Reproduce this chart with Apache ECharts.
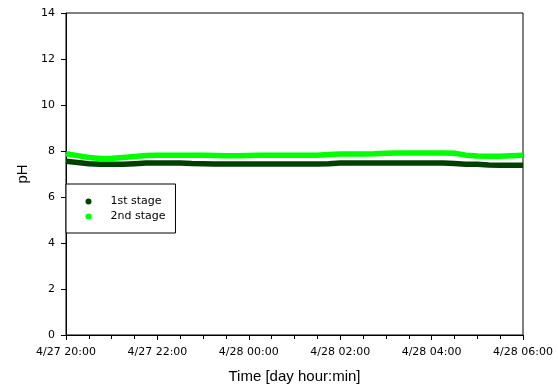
<!DOCTYPE html>
<html>
<head>
<meta charset="utf-8">
<script src="https://cdn.jsdelivr.net/npm/echarts@6/dist/echarts.min.js"></script>
<style>
  html, body { margin: 0; padding: 0; background: #fff; }
</style>
</head>
<body>
<div id="myChart" style="width: 558px; height: 390px;"></div>
<script>
// hours after 4/27 20:00
var hours = [0, 0.25, 0.5, 0.75, 1, 1.25, 1.5, 1.75, 2, 2.25, 2.5, 2.75, 3, 3.25, 3.5, 3.75,
  4, 4.25, 4.5, 4.75, 5, 5.25, 5.5, 5.75, 6, 6.25, 6.5, 6.75, 7, 7.25, 7.5, 7.75,
  8, 8.25, 8.5, 8.75, 9, 9.25, 9.5, 9.75, 10];
var stage1 = [7.55, 7.50, 7.45, 7.42, 7.42, 7.42, 7.45, 7.48, 7.48, 7.48, 7.48, 7.46, 7.45, 7.44, 7.44, 7.44,
  7.44, 7.44, 7.44, 7.44, 7.44, 7.44, 7.44, 7.45, 7.48, 7.48, 7.48, 7.48, 7.48, 7.48, 7.48, 7.48,
  7.48, 7.48, 7.46, 7.42, 7.42, 7.39, 7.38, 7.38, 7.38];
var stage2 = [7.88, 7.80, 7.72, 7.67, 7.68, 7.72, 7.76, 7.80, 7.81, 7.82, 7.82, 7.81, 7.81, 7.80, 7.79, 7.79,
  7.80, 7.81, 7.81, 7.81, 7.81, 7.81, 7.82, 7.85, 7.87, 7.87, 7.87, 7.88, 7.90, 7.91, 7.91, 7.91,
  7.91, 7.91, 7.90, 7.82, 7.78, 7.77, 7.77, 7.79, 7.81];
var tickLabels = ["4/27 20:00", "4/27 22:00", "4/28 00:00", "4/28 02:00", "4/28 04:00", "4/28 06:00"];

function pairs(ys) {
  return hours.map(function (h, i) { return [h, ys[i]]; });
}

var myChart = echarts.init(document.getElementById("myChart"));
var labelFont = { color: "#000", fontFamily: "DejaVu Sans", fontSize: 11 };

myChart.setOption({
  animation: false,
  grid: {
    left: 66, right: 35, top: 13, bottom: 55,
    show: true, borderColor: "#000", borderWidth: 1
  },
  legend: {
    orient: "vertical",
    left: 66, top: 184,
    padding: [11, 10, 10, 19.5],
    itemWidth: 34, itemHeight: 6, itemGap: 2,
    icon: "circle",
    backgroundColor: "#fff",
    borderColor: "#000", borderWidth: 1,
    textStyle: { color: "#000", fontFamily: "DejaVu Sans", fontSize: 11, lineHeight: 13 },
    data: ["1st stage", "2nd stage"]
  },
  xAxis: {
    type: "value",
    min: 0, max: 10, interval: 2,
    name: "Time [day hour:min]",
    nameLocation: "middle",
    nameGap: 34,
    nameTextStyle: { color: "#000", fontFamily: "Liberation Sans", fontSize: 15 },
    axisLine: { lineStyle: { color: "#000", width: 1 } },
    axisTick: { length: 5, lineStyle: { color: "#000" } },
    minorTick: { show: true, splitNumber: 4, length: 4, lineStyle: { color: "#000" } },
    splitLine: { show: false },
    axisLabel: Object.assign({ margin: 12, formatter: function (v) { return tickLabels[Math.round(v / 2)]; } }, labelFont)
  },
  yAxis: {
    type: "value",
    min: 0, max: 14, interval: 2,
    name: "pH",
    nameLocation: "middle",
    nameGap: 36,
    nameTextStyle: { color: "#000", fontFamily: "Liberation Sans", fontSize: 15 },
    axisLine: { show: true, lineStyle: { color: "#000", width: 1 } },
    axisTick: { show: true, length: 5, lineStyle: { color: "#000" } },
    splitLine: { show: false },
    axisLabel: Object.assign({ margin: 11 }, labelFont)
  },
  series: [
    {
      name: "1st stage",
      type: "line",
      data: pairs(stage1),
      showSymbol: false,
      symbol: "circle",
      color: "#004000",
      lineStyle: { width: 5.5, color: "#004000" }
    },
    {
      name: "2nd stage",
      type: "line",
      data: pairs(stage2),
      showSymbol: false,
      symbol: "circle",
      color: "#00ff00",
      lineStyle: { width: 5.5, color: "#00ff00" }
    }
  ]
});
</script>
</body>
</html>
